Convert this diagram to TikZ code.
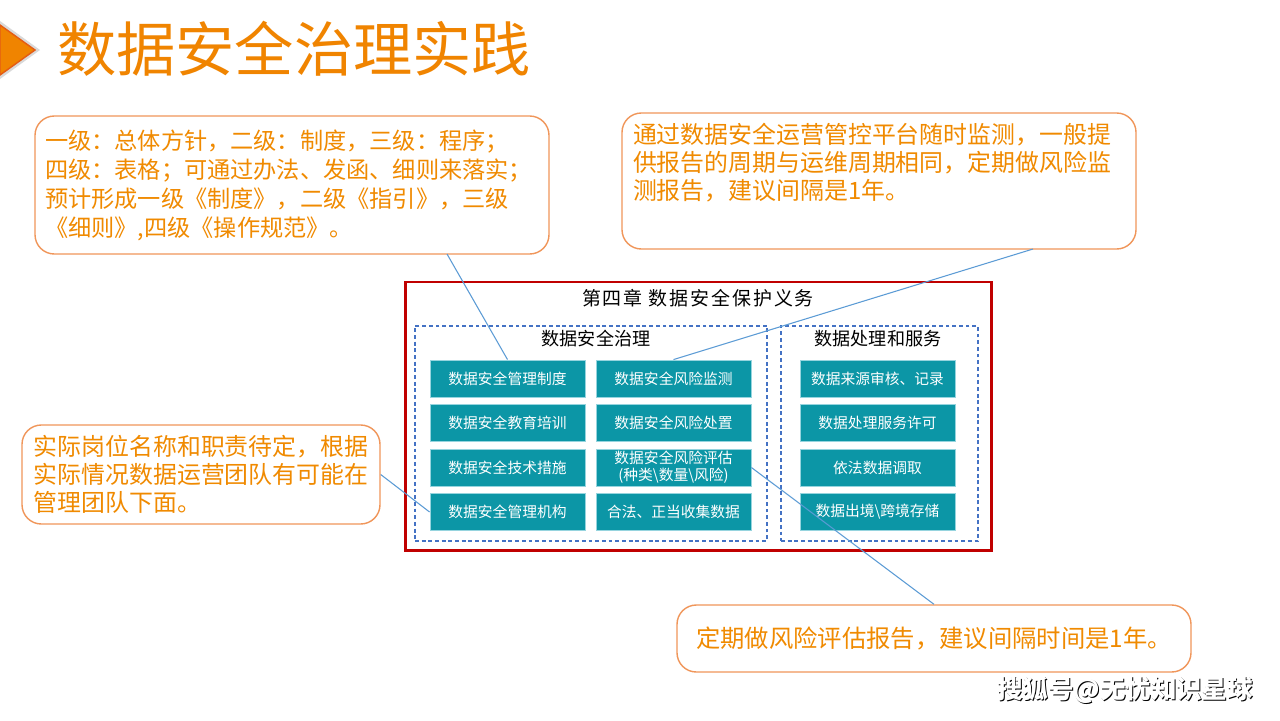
\documentclass[tikz,border=0pt]{standalone}
\usepackage{fontspec}
\setmainfont{Noto Sans CJK SC}
\usepackage{tikz}
\usetikzlibrary{positioning}
\definecolor{titleorange}{RGB}{240,132,0}
\definecolor{arrowedge}{RGB}{228,92,20}
\definecolor{calloutedge}{RGB}{240,150,90}
\definecolor{callouttext}{RGB}{240,138,0}
\definecolor{framered}{RGB}{192,0,0}
\definecolor{groupblue}{RGB}{68,114,196}
\definecolor{tealfill}{RGB}{12,150,166}
\definecolor{tealedge}{RGB}{150,212,222}
\definecolor{linkblue}{RGB}{91,155,213}
\newcommand{\pxu}{0.02cm}

\begin{document}
\begin{tikzpicture}[x=\pxu, y=-\pxu,
    callout/.style={draw=calloutedge, line width=0.8pt, rounded corners=11pt, text=callouttext, align=left, inner sep=0pt},
    item/.style={draw=tealedge, line width=0.5pt, fill=tealfill, text=white, minimum width=155*\pxu, minimum height=37*\pxu, inner sep=0pt, align=center, font=\fontsize{8.4pt}{9.7pt}\selectfont},
    group/.style={draw=groupblue, line width=0.6pt, dash pattern=on 2.2pt off 1.6pt, minimum height=215*\pxu, inner sep=0pt},
    heading/.style={inner sep=0pt, font=\fontsize{10.3pt}{12pt}\selectfont},
    link/.style={draw=linkblue, line width=0.6pt}
]
\useasboundingbox (0,0) rectangle (1280,720);
\fill[white] (0,0) rectangle (1280,720);

% title bar
\fill[black!15] (0,21) -- (40,50) -- (0,79) -- cycle;
\filldraw[fill=titleorange, draw=arrowedge, line width=0.8pt] (0,25) -- (35,50) -- (0,75) -- cycle;
\node[anchor=west, inner sep=0pt, text=titleorange, font=\fontsize{33.7pt}{40pt}\selectfont] (title) at (57,49) {数据安全治理实践};

% chapter frame
\node[draw=framered, line width=1.7pt, minimum width=586*\pxu, minimum height=268*\pxu] (chap) at (698,416) {};
\node[heading, font=\fontsize{10.8pt}{12pt}\selectfont\addfontfeature{LetterSpace=10}] (chaptitle) at (698,298) {第四章 数据安全保护义务};
\node[group, minimum width=352*\pxu] (gov) at (591,433.5) {};
\node[group, minimum width=197*\pxu] (svc) at (879.5,433.5) {};
\node[heading] (govtitle) at (596,339) {数据安全治理};
\node[heading] (svctitle) at (878,339) {数据处理和服务};

\node[item] (rule) at (507.5,378.5) {数据安全管理制度};
\node[item] (train) at (507.5,423) {数据安全教育培训};
\node[item] (tech) at (507.5,467.5) {数据安全技术措施};
\node[item] (org) at (507.5,512) {数据安全管理机构};
\node[item] (monitor) at (673.5,378.5) {数据安全风险监测};
\node[item] (handle) at (673.5,423) {数据安全风险处置};
\node[item] (assess) at (673.5,467.5) {数据安全风险评估\\(种类\textbackslash 数量\textbackslash 风险)};
\node[item] (collect) at (673.5,512) {合法、正当收集数据};
\node[item] (source) at (877.5,378.5) {数据来源审核、记录};
\node[item] (permit) at (877.5,423) {数据处理服务许可};
\node[item] (fetch) at (877.5,467.5) {依法数据调取};
\node[item] (cross) at (877.5,512) {数据出境\textbackslash 跨境存储};

% callouts
\node[callout, minimum width=514*\pxu, minimum height=138*\pxu, font=\fontsize{13.2pt}{16.5pt}\selectfont] (note1) at (292,185)
  {\parbox{9.88cm}{一级：总体方针，二级：制度，三级：程序；\\ 四级：表格；可通过办法、发函、细则来落实；\\预计形成一级《制度》，二级《指引》，三级\\《细则》,四级《操作规范》。}};
\node[callout, minimum width=514*\pxu, minimum height=136*\pxu, font=\fontsize{13.6pt}{15.9pt}\selectfont] (note2) at (879,181)
  {\parbox[c][2.32cm][t]{9.84cm}{通过数据安全运营管控平台随时监测，一般提\\供报告的周期与运维周期相同，定期做风险监\\测报告，建议间隔是1年。}};
\node[callout, minimum width=358*\pxu, minimum height=99*\pxu, font=\fontsize{13.6pt}{15.9pt}\selectfont] (note3) at (201,474.5)
  {实际岗位名称和职责待定，根据\\实际情况数据运营团队有可能在\\管理团队下面。};
\node[callout, minimum width=514*\pxu, minimum height=67*\pxu, font=\fontsize{13.85pt}{16pt}\selectfont] (note4) at (934,638.5)
  {定期做风险评估报告，建议间隔时间是1年。};

% connectors
\coordinate (n1foot) at (447,254);
\coordinate (n2foot) at (1033,249);
\draw[link] (n1foot) -- (rule.north);
\draw[link] (n2foot) -- (monitor.north);
\draw[link] (note3.east) -- (org.west);
\draw[link] (assess.east) -- (note4.north);

% watermark
\node[inner sep=0pt, text=black, font=\bfseries\fontsize{14.5pt}{16pt}\selectfont] (wmkshade) at (1126,691) {搜狐号@无忧知识星球};
\node[inner sep=0pt, text=white, font=\bfseries\fontsize{14.5pt}{16pt}\selectfont] (wmk) at (1125,690) {搜狐号@无忧知识星球};
\end{tikzpicture}
\end{document}
